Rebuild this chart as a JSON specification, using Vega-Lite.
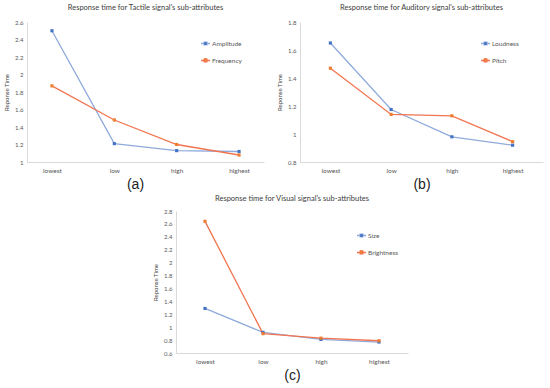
{
  "$schema": "https://vega.github.io/schema/vega-lite/v6.json",
  "background": "white",
  "padding": {"left": 3, "top": 3, "right": 3, "bottom": 3},
  "datasets": {
    "tactile": [
      {"level": "lowest", "series": "Amplitude", "value": 2.5},
      {"level": "low", "series": "Amplitude", "value": 1.21},
      {"level": "high", "series": "Amplitude", "value": 1.13},
      {"level": "highest", "series": "Amplitude", "value": 1.12},
      {"level": "lowest", "series": "Frequency", "value": 1.87},
      {"level": "low", "series": "Frequency", "value": 1.48},
      {"level": "high", "series": "Frequency", "value": 1.2},
      {"level": "highest", "series": "Frequency", "value": 1.08}
    ],
    "auditory": [
      {"level": "lowest", "series": "Loudness", "value": 1.65},
      {"level": "low", "series": "Loudness", "value": 1.175},
      {"level": "high", "series": "Loudness", "value": 0.98},
      {"level": "highest", "series": "Loudness", "value": 0.92},
      {"level": "lowest", "series": "Pitch", "value": 1.47},
      {"level": "low", "series": "Pitch", "value": 1.14},
      {"level": "high", "series": "Pitch", "value": 1.13},
      {"level": "highest", "series": "Pitch", "value": 0.945}
    ],
    "visual": [
      {"level": "lowest", "series": "Size", "value": 1.29},
      {"level": "low", "series": "Size", "value": 0.92},
      {"level": "high", "series": "Size", "value": 0.81},
      {"level": "highest", "series": "Size", "value": 0.77},
      {"level": "lowest", "series": "Brightness", "value": 2.64},
      {"level": "low", "series": "Brightness", "value": 0.9},
      {"level": "high", "series": "Brightness", "value": 0.83},
      {"level": "highest", "series": "Brightness", "value": 0.79}
    ]
  },
  "config": {
    "view": {"stroke": null},
    "font": "Lato",
    "title": {"fontSize": 7.5, "fontWeight": "normal", "color": "#404040", "font": "Lato", "offset": 8},
    "axis": {
      "domainColor": "#d9d9d9",
      "ticks": false,
      "grid": false,
      "labelColor": "#595959",
      "labelFont": "Lato",
      "labelFontSize": 6,
      "titleFont": "Lato",
      "titleFontWeight": "normal",
      "titleColor": "#404040"
    },
    "axisX": {"labelAngle": 0, "labelPadding": 5, "titleFont": "Liberation Sans", "titleFontSize": 14, "titleColor": "#222222", "titlePadding": 4, "labelFontSize": 6.5},
    "axisY": {"titleFontSize": 6, "labelPadding": 4, "titlePadding": 5},
    "legend": {
      "orient": "none",
      "title": null,
      "labelFont": "Lato",
      "labelFontSize": 6.5,
      "labelFontWeight": "normal",
      "labelColor": "#595959",
      "symbolType": "M-1,0H1M-0.3,-0.3H0.3V0.3H-0.3Z",
      "symbolSize": 81,
      "symbolStrokeWidth": 1.3,
      "rowPadding": 7,
      "labelOffset": 1
    }
  },
  "vconcat": [
    {
      "hconcat": [
        {
          "title": "Response time for Tactile signal's sub-attributes",
          "width": 237,
          "height": 140,
          "data": {"name": "tactile"},
          "encoding": {
            "x": {"field": "level", "type": "ordinal", "sort": ["lowest", "low", "high", "highest"], "scale": {"type": "point", "padding": 0.4}, "axis": {"title": "(a)", "titleX": 108}},
            "y": {"field": "value", "type": "quantitative", "scale": {"domain": [1, 2.6], "nice": false}, "axis": {"title": "Reponse Time", "values": [1, 1.2, 1.4, 1.6, 1.8, 2, 2.2, 2.4, 2.6], "format": ".1~f"}}
          },
          "layer": [
            {"mark": {"type": "line", "strokeWidth": 1.3}, "encoding": {"stroke": {"field": "series", "type": "nominal", "sort": ["Amplitude", "Frequency"], "scale": {"range": ["#8faadc", "#f27450"]}, "legend": {"legendX": 173, "legendY": 16}}}},
            {"mark": {"type": "point", "shape": "square", "filled": true, "size": 10, "opacity": 1}, "encoding": {"fill": {"field": "series", "type": "nominal", "sort": ["Amplitude", "Frequency"], "scale": {"range": ["#4472c4", "#ed7d31"]}, "legend": {"legendX": 173, "legendY": 16, "labelOpacity": 0}}}}
          ],
          "resolve": {"scale": {"stroke": "independent", "fill": "independent"}}
        },
        {
          "title": "Response time for Auditory signal's sub-attributes",
          "width": 243,
          "height": 140,
          "data": {"name": "auditory"},
          "encoding": {
            "x": {"field": "level", "type": "ordinal", "sort": ["lowest", "low", "high", "highest"], "scale": {"type": "point", "padding": 0.5}, "axis": {"title": "(b)"}},
            "y": {"field": "value", "type": "quantitative", "scale": {"domain": [0.8, 1.8], "nice": false}, "axis": {"title": "Reponse Time", "values": [0.8, 1, 1.2, 1.4, 1.6, 1.8], "format": ".1~f"}}
          },
          "layer": [
            {"mark": {"type": "line", "strokeWidth": 1.3}, "encoding": {"stroke": {"field": "series", "type": "nominal", "sort": ["Loudness", "Pitch"], "scale": {"range": ["#8faadc", "#f27450"]}, "legend": {"legendX": 180, "legendY": 16}}}},
            {"mark": {"type": "point", "shape": "square", "filled": true, "size": 10, "opacity": 1}, "encoding": {"fill": {"field": "series", "type": "nominal", "sort": ["Loudness", "Pitch"], "scale": {"range": ["#4472c4", "#ed7d31"]}, "legend": {"legendX": 180, "legendY": 16, "labelOpacity": 0}}}}
          ]
        }
      ],
      "spacing": 12,
      "resolve": {"scale": {"stroke": "independent", "fill": "independent"}, "legend": {"stroke": "independent", "fill": "independent"}}
    },
    {
      "hconcat": [
        {
          "width": 115,
          "height": 10,
          "data": {"values": []},
          "mark": {"type": "rule", "opacity": 0},
          "encoding": {}
        },
        {
          "title": {"text": "Response time for Visual signal's sub-attributes", "offset": 6},
          "width": 232,
          "height": 142,
          "data": {"name": "visual"},
          "encoding": {
            "x": {"field": "level", "type": "ordinal", "sort": ["lowest", "low", "high", "highest"], "scale": {"type": "point", "padding": 0.5}, "axis": {"title": "(c)"}},
            "y": {"field": "value", "type": "quantitative", "scale": {"domain": [0.6, 2.8], "nice": false}, "axis": {"title": "Reponse Time", "values": [0.6, 0.8, 1, 1.2, 1.4, 1.6, 1.8, 2, 2.2, 2.4, 2.6, 2.8], "format": ".1~f"}}
          },
          "layer": [
            {"mark": {"type": "line", "strokeWidth": 1.3}, "encoding": {"stroke": {"field": "series", "type": "nominal", "sort": ["Size", "Brightness"], "scale": {"range": ["#8faadc", "#f27450"]}, "legend": {"legendX": 180, "legendY": 19}}}},
            {"mark": {"type": "point", "shape": "square", "filled": true, "size": 10, "opacity": 1}, "encoding": {"fill": {"field": "series", "type": "nominal", "sort": ["Size", "Brightness"], "scale": {"range": ["#4472c4", "#ed7d31"]}, "legend": {"legendX": 180, "legendY": 19, "labelOpacity": 0}}}}
          ]
        }
      ],
      "spacing": 10,
      "resolve": {"scale": {"stroke": "independent", "fill": "independent"}, "legend": {"stroke": "independent", "fill": "independent"}}
    }
  ],
  "spacing": 2,
  "resolve": {"scale": {"stroke": "independent", "fill": "independent"}, "legend": {"stroke": "independent", "fill": "independent"}}
}
